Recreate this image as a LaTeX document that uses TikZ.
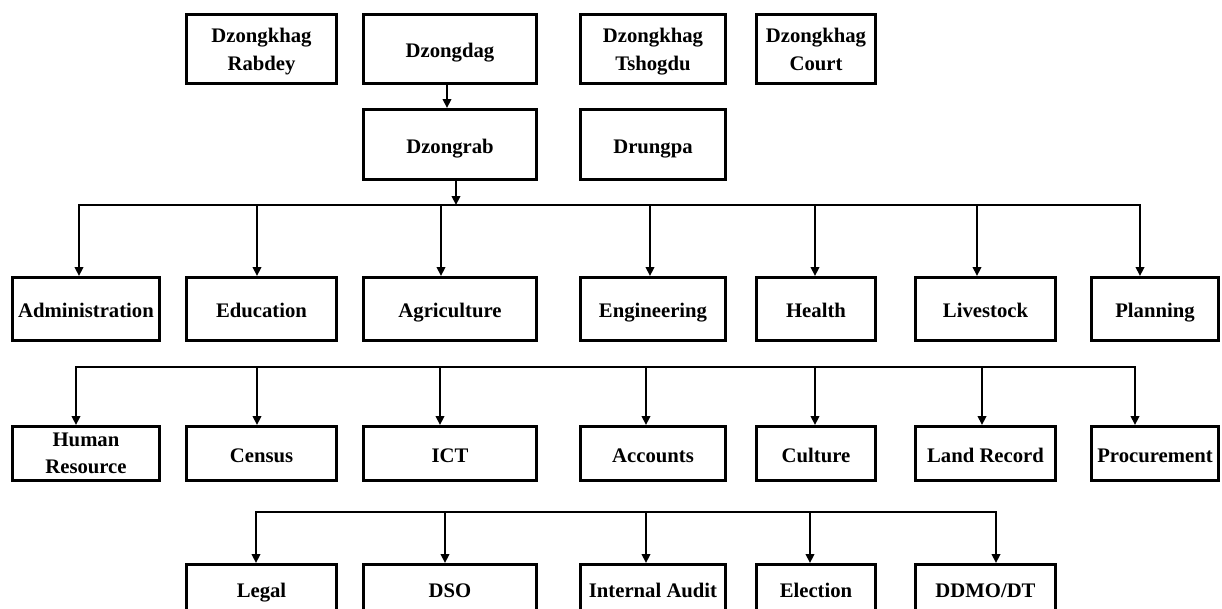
\documentclass[tikz,border=0pt]{standalone}
\usepackage{fontspec}
\setmainfont{Liberation Serif}
\usetikzlibrary{arrows.meta}
\newcommand\twolines[2]{\raisebox{-2.5pt}[\height][\depth]{\begin{tabular}{@{}c@{}}#1\\[1pt]#2\end{tabular}}}
\begin{document}
\begin{tikzpicture}[x=1pt,y=-1pt,
  box/.style={draw,line width=2.6pt,inner sep=0pt,align=center,
    font=\bfseries\fontsize{20.7}{27}\selectfont},
  one/.style={text height=17pt,text depth=0pt},
  link/.style={line width=2.6pt,line cap=rect},
  arr/.style={line width=2.6pt,-{Triangle[length=9pt,width=8.5pt]}}]
\clip (0,0) rectangle (1222,608);
\fill[white] (0,0) rectangle (1222,608);
% row 0
\node[box,minimum width=150.4pt,minimum height=69.4pt] (rab) at (261.5,49) {\twolines{Dzongkhag}{Rabdey}};
\node[box,one,minimum width=173.4pt,minimum height=69.4pt] (dzd) at (450,49) {Dzongdag};
\node[box,minimum width=145.4pt,minimum height=69.4pt] (tsh) at (653,49) {\twolines{Dzongkhag}{Tshogdu}};
\node[box,minimum width=119.4pt,minimum height=69.4pt] (crt) at (816,49) {\twolines{Dzongkhag}{Court}};
% row 1
\node[box,one,minimum width=173.4pt,minimum height=70.4pt] (dzr) at (450,144.5) {Dzongrab};
\node[box,one,minimum width=145.4pt,minimum height=70.4pt] (drg) at (653,144.5) {Drungpa};
% row 2
\node[box,one,minimum width=147.4pt,minimum height=63.4pt] (adm) at (86,309) {Administration};
\node[box,one,minimum width=150.4pt,minimum height=63.4pt] (edu) at (261.5,309) {Education};
\node[box,one,minimum width=173.4pt,minimum height=63.4pt] (agr) at (450,309) {Agriculture};
\node[box,one,minimum width=145.4pt,minimum height=63.4pt] (eng) at (653,309) {Engineering};
\node[box,one,minimum width=119.4pt,minimum height=63.4pt] (hea) at (816,309) {Health};
\node[box,one,minimum width=140.4pt,minimum height=63.4pt] (liv) at (985.5,309) {Livestock};
\node[box,one,minimum width=127.4pt,minimum height=63.4pt] (pla) at (1155,309) {Planning};
% row 3
\node[box,minimum width=147.4pt,minimum height=54.4pt] (hr) at (86,453.5) {Human\\Resource};
\node[box,one,minimum width=150.4pt,minimum height=54.4pt] (cen) at (261.5,453.5) {Census};
\node[box,one,minimum width=173.4pt,minimum height=54.4pt] (ict) at (450,453.5) {ICT};
\node[box,one,minimum width=145.4pt,minimum height=54.4pt] (acc) at (653,453.5) {Accounts};
\node[box,one,minimum width=119.4pt,minimum height=54.4pt] (cul) at (816,453.5) {Culture};
\node[box,one,minimum width=140.4pt,minimum height=54.4pt] (lr) at (985.5,453.5) {Land Record};
\node[box,one,minimum width=127.4pt,minimum height=54.4pt] (pro) at (1155,453.5) {Procurement};
% row 4
\node[box,one,minimum width=150.4pt,minimum height=49.4pt] (leg) at (261.5,589) {Legal};
\node[box,one,minimum width=173.4pt,minimum height=49.4pt] (dso) at (450,589) {DSO};
\node[box,one,minimum width=145.4pt,minimum height=49.4pt] (ia) at (653,589) {Internal Audit};
\node[box,one,minimum width=119.4pt,minimum height=49.4pt] (ele) at (816,589) {Election};
\node[box,one,minimum width=140.4pt,minimum height=49.4pt] (ddm) at (985.5,589) {DDMO/DT};
% top arrows
\draw[arr] ([xshift=-3pt]dzd.south) -- ([xshift=-3pt]dzr.north);
\coordinate (b1) at (0,205);
\draw[arr] ([xshift=6pt]dzr.south) -- ([xshift=6pt]dzr.south |- b1);
% bus 1
\foreach \x/\n in {79/adm,257/edu,441/agr,650/eng,815/hea,977/liv,1140/pla}
  \coordinate (t-\n) at (\x,205);
\draw[link] (t-adm) -- (t-pla);
\foreach \n in {adm,edu,agr,eng,hea,liv,pla}
  \draw[arr] (t-\n) -- (t-\n |- \n.north);
% bus 2
\foreach \x/\n in {76/hr,257/cen,440/ict,646/acc,815/cul,982/lr,1135/pro}
  \coordinate (t-\n) at (\x,367);
\draw[link] (t-hr) -- (t-pro);
\foreach \n in {hr,cen,ict,acc,cul,lr,pro}
  \draw[arr] (t-\n) -- (t-\n |- \n.north);
% bus 3
\foreach \x/\n in {256/leg,445/dso,646/ia,810/ele,996/ddm}
  \coordinate (t-\n) at (\x,512);
\draw[link] (t-leg) -- (t-ddm);
\foreach \n in {leg,dso,ia,ele,ddm}
  \draw[arr] (t-\n) -- (t-\n |- \n.north);
\end{tikzpicture}
\end{document}
